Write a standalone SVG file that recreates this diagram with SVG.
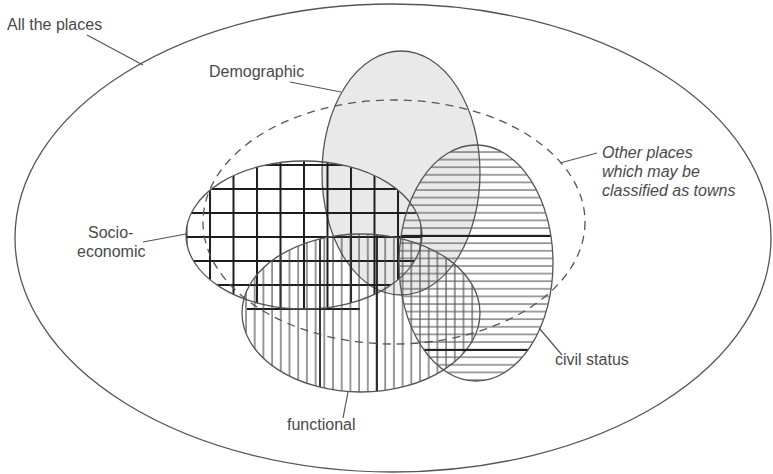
<svg xmlns="http://www.w3.org/2000/svg" width="773" height="474" viewBox="0 0 773 474">
<style>
.lbl{font-family:"Liberation Sans",Arial,sans-serif;font-size:16px;fill:#4a4a4a}
.it{font-style:italic}
.outline{fill:none;stroke:#555;stroke-width:1.3}
.lead{fill:none;stroke:#555;stroke-width:1.2}
</style>
<defs>
<pattern id="grid" patternUnits="userSpaceOnUse" x="209" y="164" width="23.5" height="24">
<line x1="1" y1="0" x2="1" y2="24" stroke="#1e1e1e" stroke-width="2"/>
<line x1="0" y1="1" x2="23.5" y2="1" stroke="#1e1e1e" stroke-width="2"/>
</pattern>
<pattern id="horiz" patternUnits="userSpaceOnUse" x="0" y="151" width="20" height="7.6">
<line x1="0" y1="1" x2="20" y2="1" stroke="#555" stroke-width="1.1"/>
</pattern>
<pattern id="vert" patternUnits="userSpaceOnUse" x="245" y="0" width="8.7" height="20">
<line x1="1" y1="0" x2="1" y2="20" stroke="#444" stroke-width="1.1"/>
</pattern>
<clipPath id="cSocio"><ellipse cx="304" cy="235" rx="118" ry="74"/></clipPath>
<clipPath id="cCivil"><ellipse cx="476" cy="263" rx="77" ry="118"/></clipPath>
<clipPath id="cFunc"><ellipse cx="361" cy="313" rx="119" ry="79"/></clipPath>
</defs>
<rect width="773" height="474" fill="#fff"/>

<g id="all-places">
<ellipse class="outline" cx="393" cy="238" rx="378" ry="234"/>
<text class="lbl" x="7" y="30">All the places</text>
</g>

<g id="demographic">
<ellipse cx="401" cy="173" rx="79" ry="122" fill="#e9e9e9" stroke="#555" stroke-width="1.3"/>
<text class="lbl" x="209" y="77">Demographic</text>
</g>

<g id="socio-economic">
<ellipse cx="304" cy="235" rx="118" ry="74" fill="url(#grid)"/>
<line x1="247" y1="309" x2="360" y2="309" stroke="#1e1e1e" stroke-width="2"/>
<ellipse class="outline" cx="304" cy="235" rx="118" ry="74"/>
<text class="lbl" x="88" y="238">Socio-</text>
<text class="lbl" x="77" y="257">economic</text>
</g>

<g id="functional">
<ellipse cx="361" cy="313" rx="119" ry="79" fill="url(#vert)"/>
<g clip-path="url(#cFunc)" stroke="#222" stroke-width="1.8">
<line x1="320" y1="230" x2="320" y2="395"/>
<line x1="377" y1="230" x2="377" y2="395"/>
</g>
<ellipse class="outline" cx="361" cy="313" rx="119" ry="79"/>
<text class="lbl" x="287" y="430">functional</text>
</g>

<g id="civil-status">
<ellipse cx="476" cy="263" rx="77" ry="118" fill="url(#horiz)"/>
<g clip-path="url(#cCivil)" stroke="#222" stroke-width="1.8">
<line x1="395" y1="236" x2="560" y2="236"/>
<line x1="395" y1="350" x2="560" y2="350"/>
</g>
<ellipse class="outline" cx="476" cy="263" rx="77" ry="118"/>
<text class="lbl" x="555" y="365">civil status</text>
</g>

<g id="other-places">
<ellipse cx="394" cy="222" rx="191" ry="122" fill="none" stroke="#555" stroke-width="1.3" stroke-dasharray="8 6"/>
<text class="lbl it" x="602" y="158">Other places</text>
<text class="lbl it" x="602" y="177">which may be</text>
<text class="lbl it" x="602" y="196">classified as towns</text>
</g>

<g id="connectors">
<line class="lead" x1="87" y1="35" x2="143" y2="65"/>
<line class="lead" x1="290" y1="82" x2="341" y2="92"/>
<line class="lead" x1="560" y1="163" x2="597" y2="153"/>
<line class="lead" x1="143" y1="242" x2="186" y2="234"/>
<line class="lead" x1="348" y1="392" x2="343" y2="418"/>
<line class="lead" x1="539" y1="328" x2="562" y2="355"/>
</g>
</svg>
